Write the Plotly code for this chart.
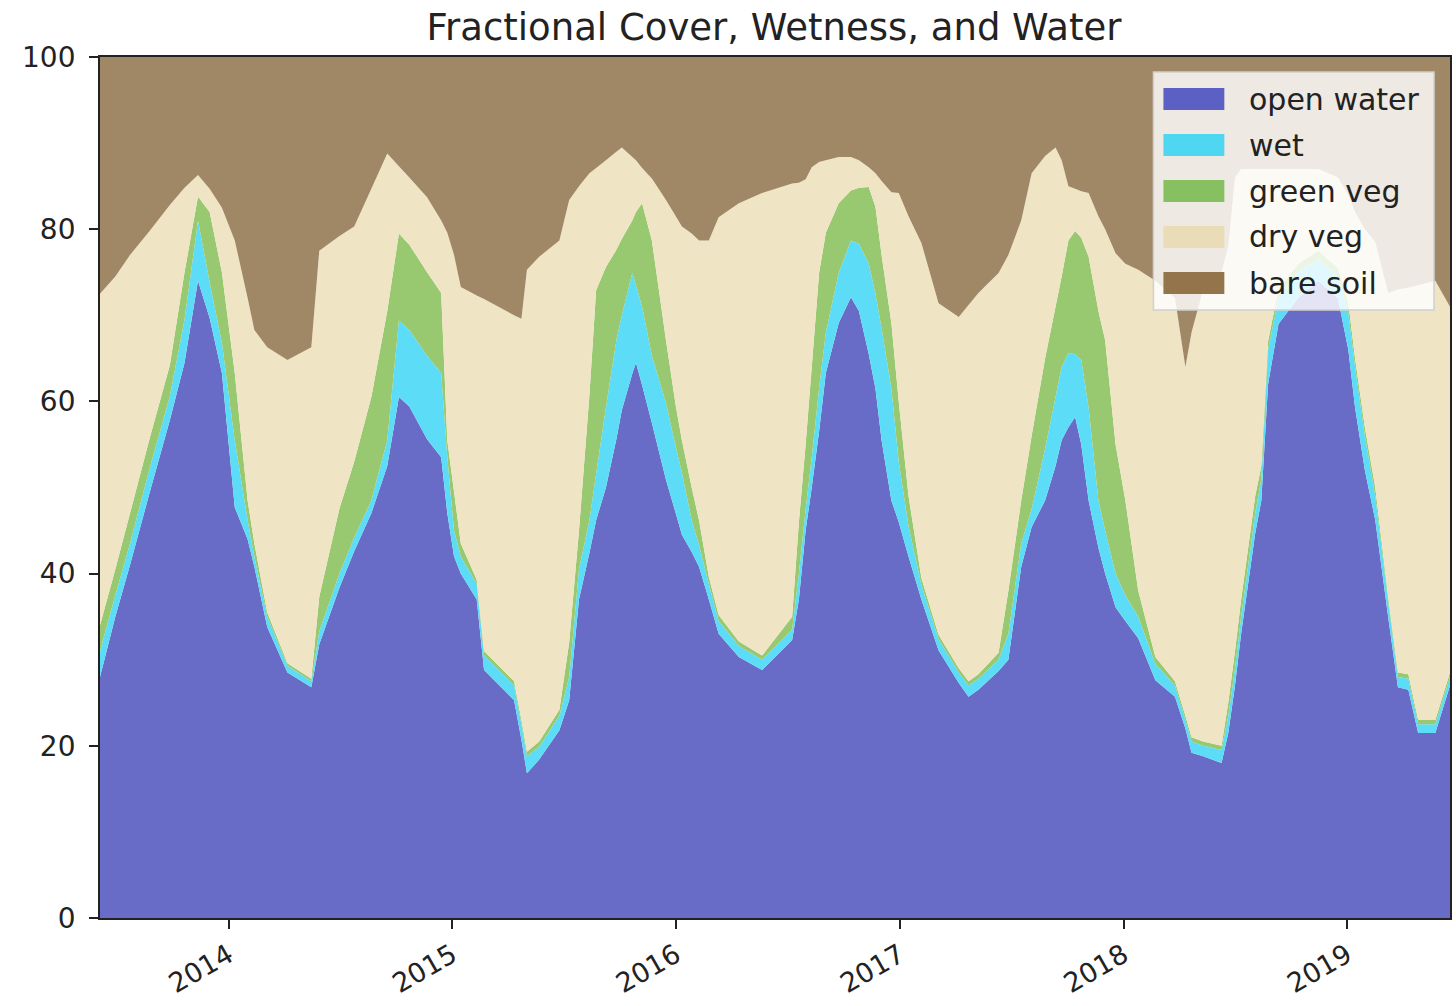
import plotly.graph_objects as go

# ---------------- data ----------------
dates = ["2013-06-05","2013-06-30","2013-07-24","2013-08-25","2013-09-27","2013-10-21","2013-11-12","2013-12-01","2013-12-21","2014-01-11",
         "2014-02-01","2014-02-12","2014-03-05","2014-04-07","2014-05-16","2014-05-29","2014-07-01","2014-07-25","2014-08-22","2014-09-17",
         "2014-10-06","2014-10-23","2014-11-21","2014-12-14","2014-12-24","2015-01-04","2015-01-15","2015-02-10","2015-02-22","2015-04-12",
         "2015-04-24","2015-05-03","2015-05-23","2015-06-25","2015-07-11","2015-07-27","2015-08-13","2015-08-24","2015-09-09","2015-09-26",
         "2015-10-05","2015-10-22","2015-10-28","2015-11-07","2015-11-23","2015-12-16","2016-01-01","2016-01-11","2016-01-27","2016-02-08",
         "2016-02-24","2016-03-11","2016-04-13","2016-05-21","2016-07-09","2016-07-20","2016-07-31","2016-08-10","2016-08-22","2016-09-02",
         "2016-09-23","2016-10-13","2016-10-26","2016-11-11","2016-11-22","2016-12-02","2016-12-18","2016-12-30","2017-01-15","2017-02-05",
         "2017-03-05","2017-04-07","2017-04-23","2017-05-09","2017-06-11","2017-06-27","2017-07-18","2017-08-04","2017-08-26","2017-09-12",
         "2017-09-22","2017-10-03","2017-10-14","2017-10-24","2017-11-05","2017-11-21","2017-12-02","2017-12-19","2018-01-04","2018-01-25",
         "2018-02-22","2018-03-26","2018-04-12","2018-04-22","2018-05-11","2018-06-10","2018-06-21","2018-07-02","2018-07-12","2018-08-04",
         "2018-08-14","2018-08-25","2018-09-11","2018-10-13","2018-11-15","2018-12-17","2019-01-03","2019-01-14","2019-01-30","2019-02-16",
         "2019-03-09","2019-03-25","2019-04-11","2019-04-27","2019-05-25","2019-06-18"]

open_water = [28,35,41,49.4,57.8,64.5,74,69.7,63.3,47.7,
              44,40.8,33.8,28.5,26.8,31.8,38.4,42.6,47,52.5,
              60.5,59.4,55.6,53.5,47,42,40,37,28.8,25.3,
              20.7,16.8,18.4,21.8,25.3,37,42.4,46.2,50,55.6,
              59,63.2,64.5,61.9,57.5,50.9,47,44.5,42.5,40.8,
              37,33,30.3,28.8,32.3,37,45,50,56.5,63.3,
              69.1,72.1,70.5,65.5,61.5,55.5,48.5,46,42,37,
              31.1,27.3,25.7,26.5,28.7,30,40.8,45.4,48.5,52.5,
              55.5,57,58.2,55,48.5,43,40,36.1,34.5,32.5,
              27.6,25.7,22,19.2,18.8,18,21.5,27,33,44.7,
              48.5,62,69,72,74,72,66,59.3,52,46.2,
              35,26.8,26.5,21.5,21.5,27]

wet = [3,2.5,2.5,2.8,2.8,5,7,4.1,3.5,7.8,
       2.2,1.2,1.2,0.8,0.7,1.5,1.6,1.6,1.5,3,
       8.9,8.9,9.7,9.8,6.5,3,2,1.8,1.7,1.7,
       1.8,2,1.5,1.7,2.7,3.5,3.8,5.4,9.3,11.5,
       11,11.7,9,9.1,7.8,8.9,7.7,7.2,3.7,2.5,
       1.8,1.5,1.3,1.2,1.2,3,2.5,3.5,5,4.7,
       5.8,6.6,7.8,10.5,11,13,13,7,3.5,1.7,
       1.3,1.2,1.3,1.3,1.3,3,2.7,2.1,6,8,
       8.5,8.6,7.3,9.8,10.8,5.5,5,3.9,3,2.5,
       1.9,1.3,1,1.3,1.2,1.5,2,2,2,2.3,
       2.5,4,3,3,2.5,2.5,4.3,4.7,4,2.8,
       1.8,1.2,1.3,1,1,1]

green_veg = [3,3,3.5,3.5,3.6,5.5,2.8,8.2,8.2,7.8,
             2.3,1.5,0.5,0.3,0.3,4,7.6,8.8,12,15,
             10.1,9.9,9.7,9.3,2,4.5,1.5,0.5,0.5,0.5,
             0.5,0.5,0.6,0.7,4,4.5,14.5,21.3,16.3,10.5,
             8.9,6.1,8.5,12,13.4,7.3,4.8,3.8,3.8,2.9,
             0.8,0.7,0.5,0.5,1.5,6,7.5,10.5,13.4,11.6,
             8.1,5.8,6.5,8.9,10.1,8.5,7.6,7,3.5,0.8,
             0.5,0.5,0.5,0.5,0.8,5,5,8.5,10.5,10.5,
             10.5,13.1,14.3,14.2,17.5,22,22.1,15,11,3,
             0.8,0.5,0.5,0.5,0.5,0.5,1.5,2,2,2,
             1.5,1,1,1,1,1,1.2,1,1,1,
             0.5,0.5,0.5,0.5,0.5,0.5]

dry_veg = [38.5,34,30,24.1,18.6,9.8,2.5,2.7,7.5,15.4,
           23.5,24.8,30.8,35.2,38.5,40.2,31.6,27.3,24.2,18.3,
           7.8,7.8,8.7,8.4,24.1,27.5,29.8,33,40.9,42.5,
           46.6,56,56.3,54.5,51.4,40,25.8,14.2,12.4,11.4,
           10.6,7.4,6,4.1,7.2,16.3,22,24.8,29.5,32.5,
           39.1,46.2,50.9,53.7,50.3,39.4,30.8,23.2,12.9,8.4,
           5.4,3.9,3.2,2.3,3.9,8.6,15.2,24.2,32.5,38.9,
           38.5,40.8,43.7,44.3,44.1,39,32.5,30.5,23.5,18.5,
           13.5,6.3,4.9,5.4,7.4,11,12.9,22.2,27.5,37.3,
           43.7,44.5,40.5,47,52.5,55,53,55,50,38,
           34.5,20,14,11,9.5,10.5,12.5,17,23,28.5,
           35.3,44.5,44.9,50.5,51,42.5]

bare_soil = [27.5,25.5,23,20.2,17.2,15.2,13.7,15.3,17.5,21.3,
             28,31.7,33.7,35.2,33.7,22.5,20.8,19.7,15.3,11.2,
             12.7,14,16.3,19,20.4,23,26.7,27.7,28.1,30,
             30.4,24.7,23.2,21.3,16.6,15,13.5,12.9,12,11,
             10.5,11.6,12,12.9,14.1,16.6,18.5,19.7,20.5,21.3,
             21.3,18.6,17,15.8,14.7,14.6,14.2,12.8,12.2,12,
             11.6,11.6,12,12.8,13.5,14.4,15.7,15.8,18.5,21.6,
             28.6,30.2,28.8,27.4,25.1,23,19,13.5,11.5,10.5,
             12,15,15.3,15.6,15.8,18.5,20,22.8,24,24.7,
             26,28,36,32,27,25,22,14,13,13,
             13,13,13,13,13,14,16,18,20,21.5,
             27.4,27,26.8,26.5,26,29]

series_names = ["open water", "wet", "green veg", "dry veg", "bare soil"]
series_values = [open_water, wet, green_veg, dry_veg, bare_soil]
series_colors = ["#696cc6", "#5cdcf6", "#98c86f", "#efe4c4", "#a08766"]
legend_colors = ["#5c5fc4", "#4fd6f0", "#86c060", "#e9dcb7", "#94744a"]

year_ticks = ["2014-01-01", "2015-01-01", "2016-01-01", "2017-01-01", "2018-01-01", "2019-01-01"]
year_labels = ["2014", "2015", "2016", "2017", "2018", "2019"]

for s in series_values:
    assert len(s) == len(dates), (len(s), len(dates))

# ---------------- figure ----------------
W, H = 1456, 1006
ML, MR, MT, MB = 100, 4, 57, 88
PW, PH = W - ML - MR, H - MT - MB

def px2paper(px, py):
    return (px - ML) / PW, (H - MB - py) / PH

fig = go.Figure()
for name, vals, col in zip(series_names, series_values, series_colors):
    fig.add_trace(go.Scatter(
        x=dates, y=vals, name=name, mode="none", stackgroup="one",
        fillcolor=col, showlegend=False, hoverinfo="x+y+name"))

# legend box drawn like matplotlib's (semi-transparent white, grey frame)
shapes = []
annotations = []
x0, y0 = px2paper(1155, 310)
x1, y1 = px2paper(1436, 72)
shapes.append(dict(type="rect", xref="paper", yref="paper", x0=x0, y0=y0, x1=x1, y1=y1,
                   fillcolor="rgba(255,255,255,0.82)", line=dict(color="#d0d0d0", width=1.5),
                   layer="above"))
for i, (name, col) in enumerate(zip(series_names, legend_colors)):
    cy = 99 + i * 46
    px0, py0 = px2paper(1165, cy + 11)
    px1, py1 = px2paper(1226, cy - 11)
    shapes.append(dict(type="rect", xref="paper", yref="paper", x0=px0, y0=py0, x1=px1, y1=py1,
                       fillcolor=col, line=dict(width=0), layer="above"))
    tx, ty = px2paper(1249, cy)
    annotations.append(dict(text=name, xref="paper", yref="paper", x=tx, y=ty,
                            xanchor="left", yanchor="middle", showarrow=False,
                            font=dict(family="DejaVu Sans", size=30, color="#222222")))

fig.update_layout(
    width=W, height=H,
    margin=dict(l=ML, r=MR, t=MT, b=MB),
    paper_bgcolor="white", plot_bgcolor="white",
    title=dict(text="Fractional Cover, Wetness, and Water", x=(774) / W, xanchor="center",
               y=1 - 27 / H, yanchor="middle", yref="container",
               font=dict(family="DejaVu Sans", size=37, color="#222222")),
    font=dict(family="DejaVu Sans", color="#222222"),
    shapes=shapes, annotations=annotations,
    showlegend=False,
)
fig.update_xaxes(
    type="date", range=[dates[0], dates[-1]],
    tickmode="array", tickvals=year_ticks, ticktext=year_labels, tickangle=-30,
    ticks="outside", ticklen=9, tickwidth=1.5, tickcolor="#222222",
    showline=True, linecolor="#222222", linewidth=1.8, mirror=True,
    showgrid=False, zeroline=False,
    tickfont=dict(family="DejaVu Sans", size=27, color="#222222"),
)
fig.update_yaxes(
    range=[0, 100], tickmode="linear", tick0=0, dtick=20,
    ticks="outside", ticklen=9, tickwidth=1.5, tickcolor="#222222",
    showline=True, linecolor="#222222", linewidth=1.8, mirror=True,
    showgrid=False, zeroline=False, ticklabelstandoff=8,
    tickfont=dict(family="DejaVu Sans", size=28, color="#222222"),
)

fig.write_html("out.html")
